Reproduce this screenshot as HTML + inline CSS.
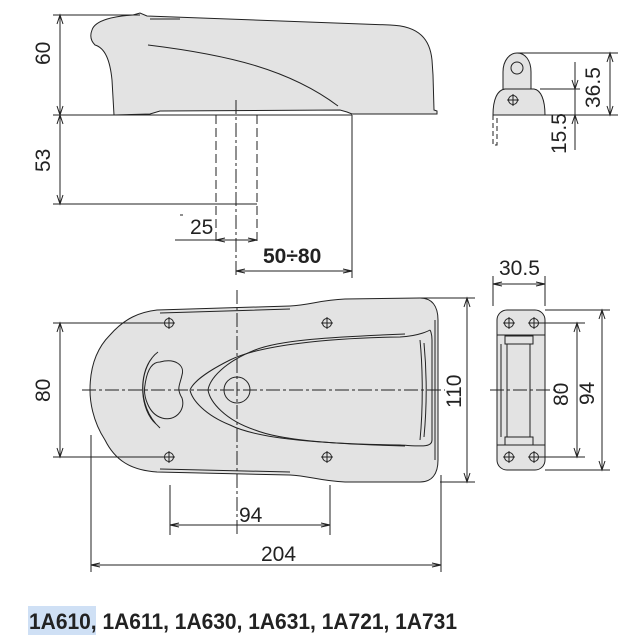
<!DOCTYPE html>
<html><head><style>
body{margin:0;background:#fff;}
svg{display:block;}
text{font-family:"Liberation Sans",sans-serif;fill:#222;}
</style></head><body>
<svg width="642" height="644" viewBox="0 0 642 644" xmlns="http://www.w3.org/2000/svg">
<g stroke="#222" stroke-width="1" fill="none">
<path d="M92,30 C95,20 115,16 133,15 L140,13 L147,16 L390,25 C420,26 430,40 432,60 L433,75 L434,110 L437,111 L437,114 L352,114 L347,112 L340,110 L160,111 L150,114 L114,115 L112,80 C110,60 105,48 95,45 C90,40 90,35 92,30 Z" fill="#e3e3e3"/>
<path d="M148,45 C230,55 290,70 338,106"/>
<path d="M150,19 L180,19"/>
<path d="M53,15 L140,15"/>
<path d="M53,115 L352,115"/>
<path d="M60,15 L60,115 M60,115 L60,204"/>
<path d="M53,204 L257,204"/>
<path d="M216,115 L216,245 M257,115 L257,245" stroke-dasharray="9,4"/>
<path d="M236,100 L236,278" stroke-dasharray="14,3,3,3"/>
<path d="M352,115 L352,278"/>
<path d="M175,240 L257,240"/>
<path d="M236,271 L352,271"/>
<path d="M57,24 L60,15 L63,24 M57,106 L60,115 L63,106 M57,124 L60,115 L63,124 M57,195 L60,204 L63,195" />
<path d="M225,238 L216,240 L225,242 M248,238 L257,240 L248,242 M245,269 L236,271 L245,273 M343,269 L352,271 L343,273"/>
<path d="M180,215 L183,215"/>
<path d="M503,89 L503,72 C503,60 510,53 517,53 C525,53 531,60 531,72 L531,89" fill="#e3e3e3"/>
<path d="M493,115 C493,100 497,90 505,89 L534,89 C541,90 545,100 545,115 Z" fill="#e3e3e3"/>
<circle cx="517" cy="68" r="6"/>
<circle cx="513" cy="100" r="4.5"/><path d="M507,100 L519,100 M513,94 L513,106"/>
<path d="M517,53 L618,53 M540,89 L580,89 M545,115 L618,115"/>
<path d="M610,53 L610,115 M575,62 L575,150"/>
<path d="M607,62 L610,53 L613,62 M607,106 L610,115 L613,106 M572,80 L575,89 L578,80 M572,124 L575,115 L578,124"/>
<path d="M493,115 L493,145 L497,145 L497,115" stroke-dasharray="5,3"/>
<path d="M157,310 L290,306 C310,305 320,300 345,299 L420,298 C432,298 438,306 438,320 L438,460 C438,474 432,482 420,482 L345,482 C320,481 310,476 290,475 L157,472 C130,470 115,460 105,440 C92,420 90,400 90,390 C90,370 95,350 110,335 C125,318 140,312 157,310 Z" fill="#e3e3e3"/>
<path d="M160,313 L290,309 M160,469 L290,472"/>
<path d="M435,320 L435,460"/>
<path d="M430,330 C430,330 420,336 400,337 C330,338 260,345 230,360 C200,375 192,385 190,390 C192,400 205,415 230,425 C260,440 330,444 400,445 C420,446 432,448 432,440 L432,340 C432,333 430,330 430,330"/>
<path d="M405,334 C330,337 280,340 255,350 C225,362 210,378 208,390 C210,402 225,420 255,430 C280,440 330,444 405,446"/>
<path d="M420,340 C423,370 423,410 420,440 M424,343 C427,375 427,405 424,437"/>
<circle cx="237" cy="390" r="13"/>
<path d="M160,362 C175,358 185,365 182,375 C180,385 176,388 182,398 C186,410 175,422 162,418 C148,414 143,395 145,385 C147,370 152,362 160,362 Z"/>
<path d="M158,352 C140,365 135,405 160,428 M152,358 C138,375 140,410 156,424"/>
<g>
<circle cx="169" cy="323" r="4.5"/><path d="M163,323 L175,323 M169,317 L169,329"/>
<circle cx="327" cy="323" r="4.5"/><path d="M321,323 L333,323 M327,317 L327,329"/>
<circle cx="169" cy="457" r="4.5"/><path d="M163,457 L175,457 M169,451 L169,463"/>
<circle cx="327" cy="457" r="4.5"/><path d="M321,457 L333,457 M327,451 L327,463"/>
</g>
<path d="M82,390 L445,390" stroke-dasharray="14,3,3,3"/>
<path d="M237,290 L237,535" stroke-dasharray="14,3,3,3"/>
<path d="M53,323 L165,323 M53,457 L165,457 M60,323 L60,457"/>
<path d="M57,332 L60,323 L63,332 M57,448 L60,457 L63,448"/>
<path d="M420,298 L475,298 M440,482 L475,482 M467,298 L467,482"/>
<path d="M464,307 L467,298 L470,307 M464,473 L467,482 L470,473"/>
<path d="M91,435 L91,572 M441,475 L441,572 M91,565 L441,565"/>
<path d="M100,563 L91,565 L100,567 M432,563 L441,565 L432,567"/>
<path d="M170,485 L170,535 M330,485 L330,535 M170,525 L330,525"/>
<path d="M179,523 L170,525 L179,527 M321,523 L330,525 L321,527"/>
<rect x="497" y="310" width="48" height="160" rx="10" fill="#e3e3e3"/>
<path d="M497,335 L545,335 M497,445 L545,445"/>
<rect x="505" y="336" width="28" height="8" fill="#e3e3e3"/>
<rect x="505" y="437" width="28" height="8" fill="#e3e3e3"/>
<path d="M501,344 L501,437 M507,344 L507,437 M530,344 L530,437"/>
<circle cx="509" cy="323" r="4.5"/><path d="M503,323 L515,323 M509,317 L509,329"/>
<circle cx="534" cy="323" r="4.5"/><path d="M528,323 L540,323 M534,317 L534,329"/>
<circle cx="509" cy="457" r="4.5"/><path d="M503,457 L515,457 M509,451 L509,463"/>
<circle cx="534" cy="457" r="4.5"/><path d="M528,457 L540,457 M534,451 L534,463"/>
<path d="M490,390 L560,390" stroke-dasharray="14,3,3,3"/>
<path d="M493,276 L493,306 M545,276 L545,306 M493,284 L545,284"/>
<path d="M502,282 L493,284 L502,286 M536,282 L545,284 L536,286"/>
<path d="M540,323 L585,323 M540,457 L585,457 M577,323 L577,457"/>
<path d="M574,332 L577,323 L580,332 M574,448 L577,457 L580,448"/>
<path d="M545,310 L610,310 M545,470 L610,470 M602,310 L602,470"/>
<path d="M599,319 L602,310 L605,319 M599,461 L602,470 L605,461"/>
</g>
<g font-size="21">
<text transform="translate(50,65) rotate(-90)">60</text>
<text transform="translate(50,172) rotate(-90)">53</text>
<text x="190" y="234">25</text>
<text x="263" y="263" font-weight="bold">50÷80</text>
<text transform="translate(600,108) rotate(-90)">36.5</text>
<text transform="translate(566,154) rotate(-90)">15.5</text>
<text x="499" y="275">30.5</text>
<text transform="translate(50,402) rotate(-90)">80</text>
<text transform="translate(461,408) rotate(-90)">110</text>
<text transform="translate(568,406) rotate(-90)">80</text>
<text transform="translate(594,405) rotate(-90)">94</text>
<text x="239" y="522">94</text>
<text x="261" y="561">204</text>
</g>
<rect x="28" y="606" width="68" height="29" fill="#cfe0f5"/>
<text x="29" y="629" font-size="22" font-weight="bold" textLength="428" lengthAdjust="spacingAndGlyphs">1A610, 1A611, 1A630, 1A631, 1A721, 1A731</text>
</svg>
</body></html>
